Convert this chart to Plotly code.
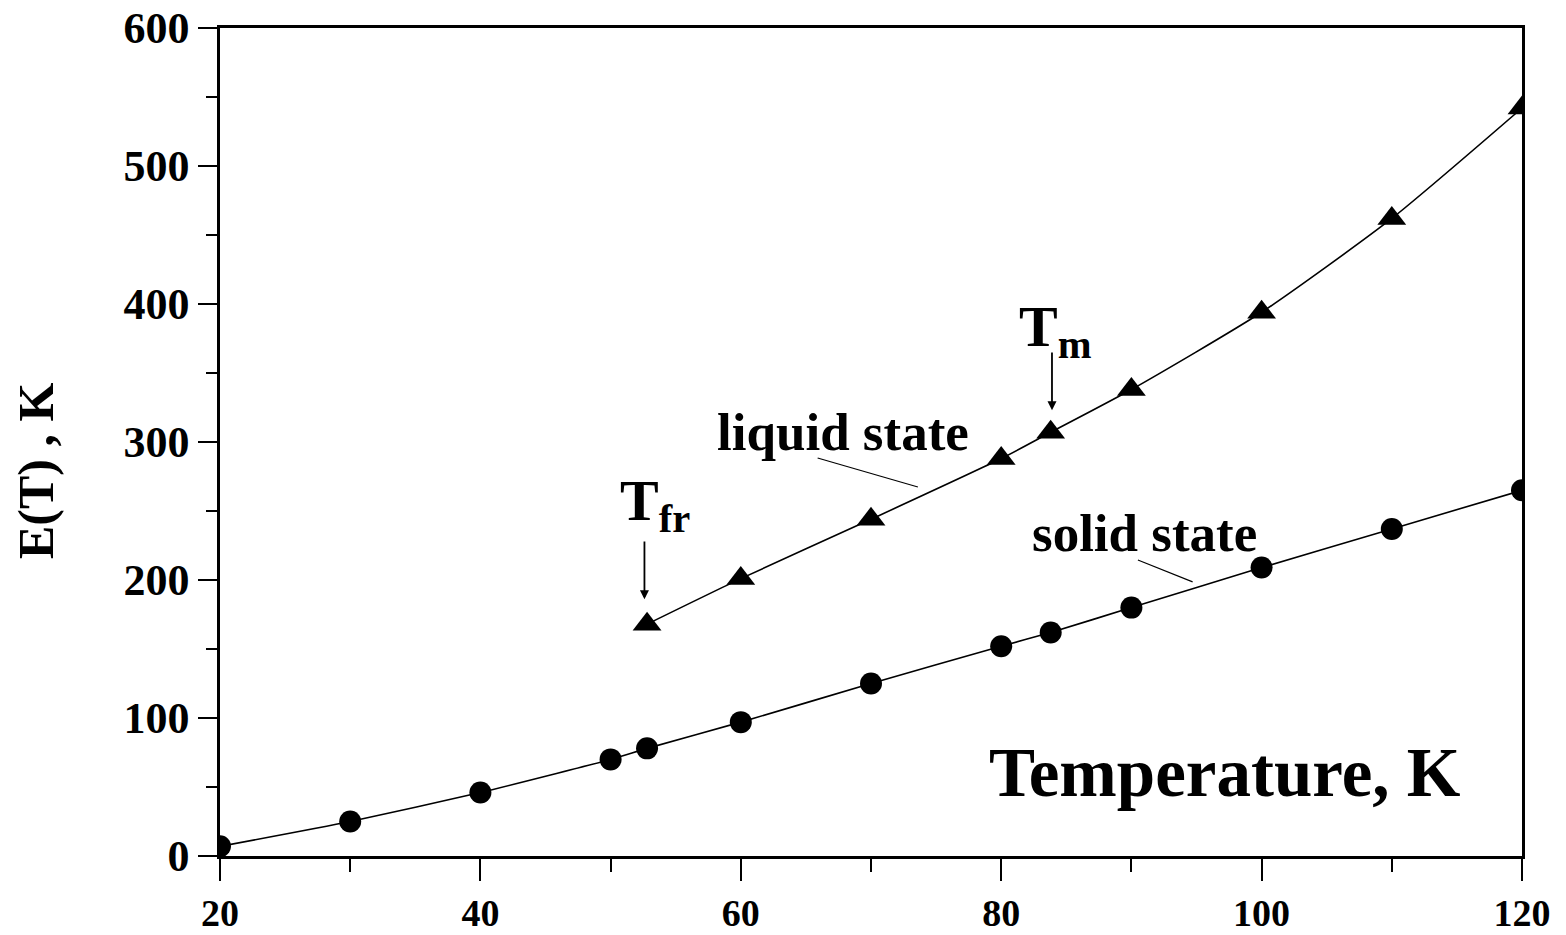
import plotly.graph_objects as go

# Temperature points (K) and energies E(T) (K)
t_solid = [20, 30, 40, 50, 52.8, 60, 70, 80, 83.8, 90, 100, 110, 120]
e_solid = [7, 25, 46, 70, 78, 97, 125, 152, 162, 180, 209, 237, 265]

t_liquid = [52.8, 60, 70, 80, 83.8, 90, 100, 110, 120]
e_liquid = [168, 201, 244, 288, 307, 338, 394, 462, 542]

x_ticks = [20, 40, 60, 80, 100, 120]
y_ticks = [0, 100, 200, 300, 400, 500, 600]

T_FR = 52.8
T_M = 83.8

FONT = "Liberation Serif"
BLACK = "#000000"

fig = go.Figure()

fig.add_trace(go.Scatter(
    x=t_solid, y=e_solid, mode="lines+markers",
    line=dict(color=BLACK, width=1.6, shape="spline", smoothing=0.6),
    marker=dict(symbol="circle", size=22, color=BLACK),
    showlegend=False,
))
fig.add_trace(go.Scatter(
    x=t_liquid, y=e_liquid, mode="lines+markers",
    line=dict(color=BLACK, width=1.6, shape="spline", smoothing=0.6),
    marker=dict(symbol="triangle-up", size=25, color=BLACK),
    showlegend=False,
))

axis_common = dict(
    showgrid=False, zeroline=False, automargin=False,
    showline=True, linecolor=BLACK, linewidth=2.5, mirror=True,
    ticks="outside", tickcolor=BLACK, tickwidth=2,
)

fig.update_xaxes(
    range=[20, 120], tickvals=x_ticks, ticklen=22,
    tickfont=dict(family=FONT, size=38, color=BLACK, weight="bold"),
    minor=dict(dtick=10, tick0=20, ticks="outside", ticklen=13, tickwidth=2, tickcolor=BLACK),
    **axis_common,
)
fig.update_yaxes(
    range=[0, 600], tickvals=y_ticks, ticklen=19,
    tickfont=dict(family=FONT, size=44, color=BLACK, weight="bold"),
    minor=dict(dtick=50, tick0=0, ticks="outside", ticklen=11, tickwidth=2, tickcolor=BLACK),
    **axis_common,
)

annotations = [
    dict(x=67.85, y=307, text="liquid state", showarrow=False,
         font=dict(family=FONT, size=53, color=BLACK, weight="bold")),
    dict(x=91.0, y=234, text="solid state", showarrow=False,
         font=dict(family=FONT, size=53, color=BLACK, weight="bold")),
    dict(x=97.2, y=60, text="Temperature, K", showarrow=False,
         font=dict(family=FONT, size=69, color=BLACK, weight="bold")),
    dict(x=53.4, y=255, text="T<sub>fr</sub>", showarrow=False,
         font=dict(family=FONT, size=58, color=BLACK, weight="bold")),
    dict(x=84.2, y=381, text="T<sub>m</sub>", showarrow=False,
         font=dict(family=FONT, size=58, color=BLACK, weight="bold")),
    # arrows marking the freezing and melting temperatures
    dict(x=T_FR - 0.2, y=186, ax=T_FR - 0.2, ay=229, axref="x", ayref="y",
         text="", showarrow=True, arrowhead=2, arrowsize=1, arrowwidth=1.8, arrowcolor=BLACK),
    dict(x=T_M + 0.1, y=323, ax=T_M + 0.1, ay=366, axref="x", ayref="y",
         text="", showarrow=True, arrowhead=2, arrowsize=1, arrowwidth=1.8, arrowcolor=BLACK),
    dict(x=0, y=0.465, xref="paper", yref="paper", xanchor="center", yanchor="middle",
         text="E(T) , K", textangle=-90, showarrow=False, xshift=-184,
         font=dict(family=FONT, size=50, color=BLACK, weight="bold")),
]

shapes = [
    # leader lines from the labels to their curves
    dict(type="line", x0=65.9, y0=288.4, x1=73.6, y1=267.4,
         line=dict(color=BLACK, width=1.2)),
    dict(type="line", x0=90.5, y0=214.5, x1=94.7, y1=198.6,
         line=dict(color=BLACK, width=1.2)),
]

fig.update_layout(
    width=1566, height=935,
    margin=dict(l=220, r=44, t=28, b=79),
    paper_bgcolor="white", plot_bgcolor="white",
    annotations=annotations, shapes=shapes,
)

fig.write_html("out.html")
